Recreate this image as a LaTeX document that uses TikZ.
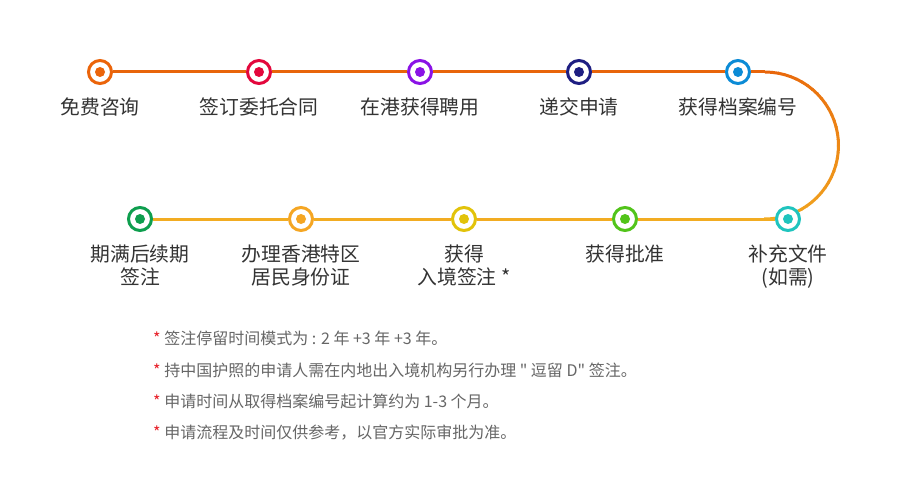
\documentclass[tikz,border=0pt]{standalone}
\usepackage{fontspec}
\setmainfont{Noto Sans CJK SC}
\newfontfamily\plainquote{Noto Sans CJK SC}[Ligatures=TeXOff]
\usetikzlibrary{backgrounds,calc}
\definecolor{cA}{HTML}{EB640A}
\definecolor{cB}{HTML}{E3073C}
\definecolor{cC}{HTML}{8A12E6}
\definecolor{cD}{HTML}{1E1E82}
\definecolor{cE}{HTML}{0B8BD6}
\definecolor{cF}{HTML}{1FC4BE}
\definecolor{cG}{HTML}{52C41A}
\definecolor{cH}{HTML}{E2C30A}
\definecolor{cI}{HTML}{F5A623}
\definecolor{cJ}{HTML}{0E9E4E}
\definecolor{lineA}{HTML}{E8650A}
\definecolor{lineB}{HTML}{F2AC22}
\definecolor{labelgray}{HTML}{333333}
\definecolor{notegray}{HTML}{666666}
\definecolor{starred}{HTML}{E8212A}
\newcommand{\sq}{{\plainquote"}}
\tikzset{
  stepdot/.style={circle, draw=#1, fill=white, line width=3pt, minimum size=23pt, inner sep=0pt,
    path picture={\fill[#1] (path picture bounding box.center) circle (5pt);}},
  lbl/.style={font=\fontsize{19.8}{23}\selectfont, text=labelgray, align=center, anchor=base, inner sep=0pt},
  note/.style={font=\fontsize{16}{20}\selectfont, text=notegray, anchor=base west, inner sep=0pt},
  topline/.style={draw=lineA, line width=3pt},
  botline/.style={draw=lineB, line width=3pt},
}
\begin{document}
\begin{tikzpicture}[x=1pt,y=-1pt]
\useasboundingbox (0,0) rectangle (900,500);
% step dots
\node[stepdot=cA] (c1) at (100,72) {};
\node[stepdot=cB] (c2) at (259,72) {};
\node[stepdot=cC] (c3) at (420,72) {};
\node[stepdot=cD] (c4) at (579,72) {};
\node[stepdot=cE] (c5) at (738,72) {};
\node[stepdot=cF] (c6) at (788,219) {};
\node[stepdot=cG] (c7) at (625,219) {};
\node[stepdot=cH] (c8) at (464,219) {};
\node[stepdot=cI] (c9) at (301,219) {};
\node[stepdot=cJ] (c10) at (140,219) {};
\coordinate (arcTop) at (765,72);
\coordinate (arcBot) at (765,219);
% labels
\node[lbl] (l1) at (100,114.5) {免费咨询};
\node[lbl] (l2) at (259,114.5) {签订委托合同};
\node[lbl] (l3) at (420,114.5) {在港获得聘用};
\node[lbl] (l4) at (579,114.5) {递交申请};
\node[lbl] (l5) at (738,114.5) {获得档案编号};
\node[lbl] (l6) at (788,284.5) {补充文件\\(如需)};
\node[lbl] (l7) at (625,261.5) {获得批准};
\node[lbl] (l8) at (464,284.5) {获得\\入境签注 *};
\node[lbl] (l9) at (301,284.5) {办理香港特区\\居民身份证};
\node[lbl] (l10) at (140,284.5) {期满后续期\\签注};
% notes
\node[note] (n1) at (153,344.5) {\textcolor{starred}{*} 签注停留时间模式为 : 2 年 +3 年 +3 年。};
\node[note] (n2) at (153,376) {\textcolor{starred}{*} 持中国护照的申请人需在内地出入境机构另行办理 \sq{} 逗留 D\sq{} 签注。};
\node[note] (n3) at (153,407.5) {\textcolor{starred}{*} 申请时间从取得档案编号起计算约为 1-3 个月。};
\node[note] (n4) at (153,438.5) {\textcolor{starred}{*} 申请流程及时间仅供参考，以官方实际审批为准。};
% connectors
\begin{scope}[on background layer]
\fill[white] (0,0) rectangle (900,500);
\draw[topline] (c1) -- (c2);
\draw[topline] (c2) -- (c3);
\draw[topline] (c3) -- (c4);
\draw[topline] (c4) -- (c5);
\draw[topline] (c5) -- (arcTop);
\foreach \i in {0,...,35}{
  \pgfmathsetmacro\ta{\i*5}
  \pgfmathsetmacro\tb{\i*5+5.6}
  \pgfmathsetmacro\p{\i/35*100}
  \draw[line width=3pt, color=lineB!\p!lineA]
    ($(arcTop)+({73.5*sin(\ta)},{73.5-73.5*cos(\ta)})$) -- ($(arcTop)+({73.5*sin(\tb)},{73.5-73.5*cos(\tb)})$);
}
\draw[botline] (arcBot) -- (c6);
\draw[botline] (c6) -- (c7);
\draw[botline] (c7) -- (c8);
\draw[botline] (c8) -- (c9);
\draw[botline] (c9) -- (c10);
\end{scope}
\end{tikzpicture}
\end{document}
